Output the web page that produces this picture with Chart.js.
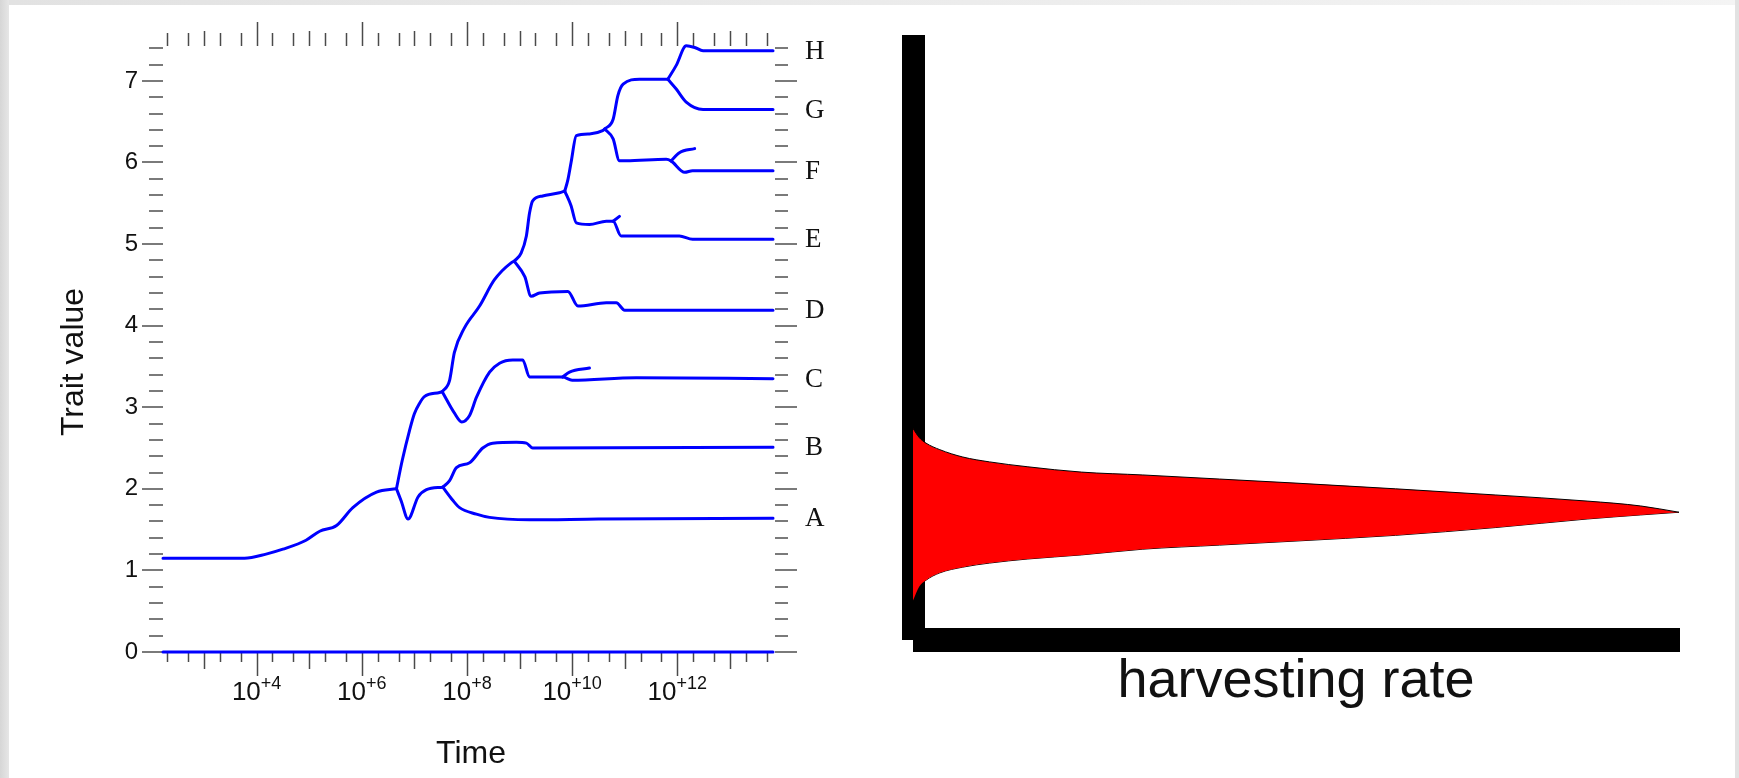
<!DOCTYPE html>
<html>
<head>
<meta charset="utf-8">
<script src="https://cdn.jsdelivr.net/npm/chart.js@4.4.1/dist/chart.umd.min.js"></script>
<style>
  body { margin: 0; background: #fff; }
  #wrap { position: relative; width: 1739px; height: 778px; overflow: hidden; background: #fff; }
  .edge { position: absolute; }
  canvas { position: absolute; top: 0; }
</style>
</head>
<body>
<div id="wrap">
  <div class="edge" style="left:0;top:0;width:9px;height:778px;background:linear-gradient(to right,#d6d6d6,#e6e6e6);"></div>
  <div class="edge" style="left:9px;top:0;width:1730px;height:5px;background:linear-gradient(to right,#e2e2e2,#f4f4f4);"></div>
  <div class="edge" style="left:1735px;top:0;width:4px;height:778px;background:#e2e2e2;"></div>
  <canvas id="trait" width="880" height="778" style="left:0"></canvas>
  <canvas id="harvest" width="869" height="778" style="left:870px"></canvas>
</div>
<script>
// x = log10(time), y = trait value
const trunk = [[2.22,1.15],[3.77,1.15],[4.18,1.20],[4.50,1.26],[4.94,1.37],[5.20,1.48],[5.52,1.55],[5.83,1.77],[6.28,1.96],[6.66,2.00]];
const stemAB = [[6.66,2.00],[6.75,1.85],[6.88,1.63],[7.07,1.90],[7.23,1.99],[7.54,2.02]];
const stemUp1 = [[6.66,2.00],[6.69,2.10],[6.77,2.35],[6.91,2.72],[7.00,2.92],[7.10,3.05],[7.19,3.13],[7.48,3.18],[7.53,3.19]];
const lineageA = [[7.54,2.02],[7.73,1.86],[7.86,1.77],[8.18,1.69],[8.43,1.65],[9.19,1.62],[10.5,1.63],[13.82,1.64]];
const lineageB = [[7.54,2.02],[7.67,2.10],[7.80,2.26],[8.05,2.32],[8.30,2.50],[8.49,2.56],[8.94,2.57],[9.13,2.56],[9.25,2.50],[13.82,2.51]];
const lineageC = [[7.53,3.19],[7.76,2.93],[7.90,2.82],[8.05,2.90],[8.18,3.12],[8.43,3.43],[8.62,3.54],[8.87,3.58],[9.06,3.58],[9.19,3.37],[9.82,3.37],[10.0,3.33],[11.22,3.36],[13.82,3.35]];
const sideC = [[9.82,3.37],[9.95,3.43],[10.33,3.48]];
const stemUp2 = [[7.53,3.19],[7.67,3.33],[7.76,3.67],[7.95,3.97],[8.24,4.24],[8.52,4.56],[8.84,4.77],[8.90,4.79]];
const lineageD = [[8.90,4.79],[9.10,4.60],[9.22,4.36],[9.38,4.40],[9.92,4.42],[10.11,4.24],[10.65,4.28],[10.84,4.28],[11.0,4.19],[13.82,4.19]];
const stemUp3 = [[8.90,4.79],[9.03,4.89],[9.13,5.10],[9.19,5.38],[9.25,5.53],[9.44,5.59],[9.76,5.63],[9.86,5.65]];
const lineageE = [[9.86,5.65],[9.98,5.47],[10.08,5.26],[10.33,5.24],[10.65,5.28],[10.78,5.28],[10.93,5.10],[12.04,5.10],[12.29,5.06],[13.82,5.06]];
const sideE = [[10.78,5.28],[10.90,5.34]];
const stemUp4 = [[9.86,5.65],[9.92,5.79],[9.98,6.00],[10.08,6.33],[10.33,6.35],[10.58,6.39],[10.62,6.41]];
const lineageF = [[10.62,6.41],[10.78,6.29],[10.90,6.02],[11.03,6.02],[11.79,6.04],[11.88,6.02],[12.14,5.88],[12.29,5.90],[13.82,5.90]];
const sideF = [[11.88,6.02],[12.04,6.12],[12.33,6.17]];
const stemUp5 = [[10.62,6.41],[10.78,6.53],[10.87,6.82],[10.97,6.96],[11.28,7.02],[11.66,7.02],[11.82,7.02]];
const lineageG = [[11.82,7.02],[11.98,6.90],[12.17,6.74],[12.49,6.65],[13.82,6.65]];
const lineageH = [[11.82,7.02],[11.98,7.19],[12.17,7.43],[12.33,7.41],[12.49,7.37],[13.82,7.37]];
const extinct = [[2.22,0],[13.82,0]];

const tipNames = ['A', 'B', 'C', 'D', 'E', 'F', 'G', 'H'];
const tipLineages = [lineageA, lineageB, lineageC, lineageD, lineageE, lineageF, lineageG, lineageH];

const tickDecades = [2, 3, 4, 5, 6, 7, 8, 9, 10, 11, 12, 13];
const tickMantissas = [1, 2, 5];
const labelDecades = [4, 6, 8, 10, 12];
const yLabels = [0, 1, 2, 3, 4, 5, 6, 7];
const yMinorStep = 0.2;

// harvesting rate panel
const harvest = [0, 0.8, 1.7, 3.5, 6.5, 10, 15, 22, 30, 40, 50, 63, 76, 88, 95, 100];
const upperEdge = [2.74, 2.63, 2.56, 2.48, 2.39, 2.33, 2.27, 2.205, 2.17, 2.12, 2.07, 2.00, 1.925, 1.85, 1.79, 1.713];
const lowerEdge = [0.63, 0.80, 0.88, 0.97, 1.04, 1.09, 1.14, 1.19, 1.26, 1.31, 1.36, 1.43, 1.525, 1.63, 1.68, 1.713];

const SANS = '"Liberation Sans", Arial, Helvetica, sans-serif';
const SERIF = '"Liberation Serif", "Times New Roman", serif';

function toXY(arr) {
    return arr.map(p => ({ x: p[0], y: p[1] }));
}

const allLines = [extinct, trunk, stemAB, stemUp1, lineageA, lineageB, lineageC, sideC, stemUp2,
    lineageD, stemUp3, lineageE, sideE, stemUp4, lineageF, sideF, stemUp5, lineageG, lineageH];

const traitAxes = {
    id: 'traitAxes',
    beforeDatasetsDraw(chart) {
        const ctx = chart.ctx;
        const a = chart.chartArea;
        const xs = chart.scales.x;
        const ys = chart.scales.y;
        ctx.save();

        function seg(x1, y1, x2, y2) {
            ctx.beginPath();
            ctx.moveTo(x1, y1);
            ctx.lineTo(x2, y2);
            ctx.stroke();
        }

        // time ticks, top and bottom
        ctx.strokeStyle = '#4a4a4a';
        ctx.lineWidth = 1.5;
        tickDecades.forEach(n => {
            tickMantissas.forEach(m => {
                const v = n + Math.log10(m);
                if (v < xs.min || v > xs.max) return;
                const px = Math.round(xs.getPixelForValue(v)) + 0.5;
                const even = m === 1 && n % 2 === 0;
                const lenB = m === 1 ? (even ? 24 : 17) : 10;
                const lenT = m === 1 ? (even ? 24 : 15) : 13;
                seg(px, a.bottom, px, a.bottom + lenB);
                seg(px, a.top + 1, px, a.top + 1 - lenT);
            });
        });

        // trait ticks, left and right
        ctx.strokeStyle = '#7a7a7a';
        ctx.lineWidth = 2;
        for (let i = 0; i * yMinorStep <= ys.max + 1e-9; i++) {
            const py = Math.round(ys.getPixelForValue(i * yMinorStep));
            const major = i % 5 === 0;
            seg(a.left - (major ? 21 : 14), py, a.left, py);
            seg(a.right + 2, py, a.right + (major ? 24 : 15), py);
        }

        ctx.fillStyle = '#111';
        // y labels
        ctx.font = '24px ' + SANS;
        ctx.textAlign = 'right';
        ctx.textBaseline = 'middle';
        yLabels.forEach(v => {
            ctx.fillText(String(v), a.left - 25, ys.getPixelForValue(v));
        });

        // x labels 10^+n
        ctx.textBaseline = 'alphabetic';
        ctx.textAlign = 'left';
        labelDecades.forEach(n => {
            const px = xs.getPixelForValue(n);
            const base = '10';
            const sup = '+' + n;
            ctx.font = '26px ' + SANS;
            const w1 = ctx.measureText(base).width;
            ctx.font = '18px ' + SANS;
            const w2 = ctx.measureText(sup).width;
            const x0 = px - (w1 + w2) / 2;
            ctx.font = '26px ' + SANS;
            ctx.fillText(base, x0, a.bottom + 48);
            ctx.font = '18px ' + SANS;
            ctx.fillText(sup, x0 + w1, a.bottom + 37);
        });

        // axis titles
        ctx.font = '32px ' + SANS;
        ctx.textAlign = 'center';
        ctx.fillText('Time', (a.left + a.right) / 2 + 3, a.bottom + 111);
        ctx.save();
        ctx.translate(a.left - 80, 362);
        ctx.rotate(-Math.PI / 2);
        ctx.fillText('Trait value', 0, 0);
        ctx.restore();

        // lineage letters
        ctx.font = '27px ' + SERIF;
        ctx.textAlign = 'left';
        ctx.textBaseline = 'middle';
        tipLineages.forEach((l, i) => {
            const last = l[l.length - 1];
            ctx.fillText(tipNames[i], a.right + 32, ys.getPixelForValue(last[1]) + 1);
        });

        ctx.restore();
    }
};

new Chart(document.getElementById('trait'), {
    type: 'scatter',
    data: {
        datasets: allLines.map(l => ({
            data: toXY(l),
            showLine: true,
            borderColor: '#0000ff',
            borderWidth: 3,
            pointRadius: 0,
            cubicInterpolationMode: 'monotone',
            borderJoinStyle: 'round',
            borderCapStyle: 'round',
            clip: false
        }))
    },
    options: {
        responsive: false,
        devicePixelRatio: 1,
        animation: false,
        layout: { padding: { left: 163, top: 45, right: 107, bottom: 126 } },
        plugins: { legend: { display: false }, tooltip: { enabled: false } },
        scales: {
            x: { type: 'linear', min: 2.22, max: 13.82, display: false },
            y: { type: 'linear', min: 0, max: 7.44, display: false }
        }
    },
    plugins: [traitAxes]
});

const harvestAxes = {
    id: 'harvestAxes',
    beforeDatasetsDraw(chart) {
        const ctx = chart.ctx;
        const a = chart.chartArea;
        ctx.save();
        ctx.fillStyle = '#000';
        ctx.fillRect(a.left - 11, a.top - 10, 23, a.bottom - 12 - (a.top - 10));
        ctx.fillRect(a.left, a.bottom - 24, a.right + 1 - a.left, 24);
        ctx.restore();
    },
    afterDraw(chart) {
        const ctx = chart.ctx;
        const a = chart.chartArea;
        ctx.save();
        ctx.fillStyle = '#111';
        ctx.font = '54px ' + SANS;
        ctx.textAlign = 'center';
        ctx.textBaseline = 'alphabetic';
        ctx.fillText('harvesting rate', (a.left + a.right) / 2, a.bottom + 45);
        ctx.restore();
    }
};

new Chart(document.getElementById('harvest'), {
    type: 'line',
    data: {
        datasets: [
            {
                data: harvest.map((h, i) => ({ x: h, y: upperEdge[i] })),
                borderColor: '#000',
                borderWidth: 1,
                backgroundColor: '#ff0000',
                fill: '+1',
                pointRadius: 0,
                cubicInterpolationMode: 'monotone'
            },
            {
                data: harvest.map((h, i) => ({ x: h, y: lowerEdge[i] })),
                borderColor: '#000',
                borderWidth: 1,
                fill: false,
                pointRadius: 0,
                cubicInterpolationMode: 'monotone'
            }
        ]
    },
    options: {
        responsive: false,
        devicePixelRatio: 1,
        animation: false,
        layout: { padding: { left: 43, top: 45, right: 60, bottom: 126 } },
        plugins: { legend: { display: false }, tooltip: { enabled: false } },
        scales: {
            x: { type: 'linear', min: 0, max: 100, display: false },
            y: { type: 'linear', min: 0, max: 7.44, display: false }
        }
    },
    plugins: [harvestAxes]
});
</script>
</body>
</html>
